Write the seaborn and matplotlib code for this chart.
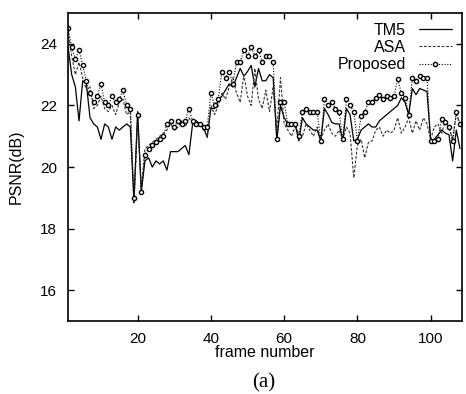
"""PSNR per frame for TM5, ASA and the proposed rate control, gnuplot-like look."""
import matplotlib
matplotlib.use("Agg")
import matplotlib.pyplot as plt
import numpy as np
import pandas as pd
import seaborn as sns

frames = list(range(1, 109))

# values (dB)
tm5 = [
    23.9, 23.0, 22.6, 21.5, 22.8, 22.7, 21.6, 21.4, 21.3, 20.9,
    21.4, 21.3, 20.9, 21.3, 21.2, 21.3, 21.4, 21.3, 18.9, 21.8,
    19.2, 20.2, 20.3, 20.0, 20.2, 20.1, 20.2, 19.9, 20.5, 20.5,
    20.5, 20.6, 20.7, 20.4, 21.4, 21.5, 21.4, 21.3, 20.96, 21.9,
    21.9, 22.15, 22.3, 22.5, 22.7, 22.6, 22.9, 23.2, 22.95, 23.1,
    23.3, 22.6, 23.2, 22.8, 22.8, 23.0, 22.9, 20.85, 22.0, 21.6,
    21.4, 21.4, 21.4, 20.85, 21.6, 21.4, 21.3, 21.2, 21.2, 20.85,
    21.9, 21.7, 21.45, 21.4, 21.4, 20.85, 21.9, 21.7, 20.85, 20.9,
    21.2, 21.3, 21.4, 21.3, 21.3, 21.5, 21.6, 21.7, 21.8, 21.9,
    22.0, 22.25, 22.1, 21.7, 22.55, 22.35, 22.55, 22.5, 22.45, 20.85,
    20.9, 21.05, 21.2, 21.1, 21.05, 20.2, 21.2, 20.6,
]
asa = [
    24.4, 23.6, 23.0, 23.4, 22.9, 22.5, 22.6, 21.9, 22.0, 22.3,
    21.9, 21.8, 22.0, 21.7, 22.1, 22.2, 21.7, 21.8, 18.8, 21.5,
    19.3, 20.6, 20.7, 20.8, 20.9, 21.0, 21.1, 21.2, 21.4, 21.2,
    21.3, 21.5, 21.3, 21.6, 21.4, 21.3, 21.4, 21.2, 21.0, 22.0,
    21.7, 22.0, 22.4, 22.2, 22.6, 22.9, 22.4, 22.1, 23.0, 22.3,
    22.0, 23.2, 22.2, 21.9, 22.5, 21.8, 22.6, 21.2, 22.9, 21.4,
    21.2, 21.0, 21.3, 21.1, 21.0, 21.4, 21.2, 21.0, 21.3, 20.9,
    21.2, 21.4, 21.1, 21.0, 21.2, 20.9, 21.3, 21.1, 19.65, 20.7,
    20.9, 20.3, 20.8, 20.85, 21.2, 21.3, 21.0, 21.2, 21.1, 21.2,
    21.6, 21.1, 21.3, 21.6, 21.1, 21.5, 21.2, 21.6, 21.4, 20.9,
    21.3, 21.4, 21.1, 21.5, 21.3, 20.9, 21.7, 21.4,
]
proposed = [
    24.5, 23.9, 23.5, 23.8, 23.3, 22.8, 22.4, 22.1, 22.3, 22.7,
    22.1, 22.0, 22.3, 22.1, 22.2, 22.5, 22.0, 21.9, 19.0, 21.7,
    19.2, 20.4, 20.6, 20.7, 20.8, 20.9, 21.0, 21.4, 21.5, 21.3,
    21.5, 21.4, 21.5, 21.9, 21.5, 21.4, 21.4, 21.3, 21.3, 22.4,
    22.0, 22.2, 23.1, 22.9, 23.1, 22.7, 23.4, 23.4, 23.8, 23.6,
    23.9, 23.6, 23.8, 23.4, 23.6, 23.6, 23.4, 20.9, 22.1, 22.1,
    21.4, 21.4, 21.4, 21.0, 21.8, 21.9, 21.8, 21.8, 21.8, 20.85,
    22.2, 22.0, 22.1, 21.9, 21.8, 20.9, 22.2, 22.0, 21.8, 20.85,
    21.65, 21.8, 22.1, 22.1, 22.25, 22.35, 22.2, 22.3, 22.25, 22.3,
    22.85, 22.4, 22.25, 21.7, 22.9, 22.8, 22.95, 22.9, 22.9, 20.85,
    20.85, 20.9, 21.55, 21.45, 21.3, 20.85, 21.8, 21.4,
]

x_ticks = [20, 40, 60, 80, 100]
y_ticks = [16, 18, 20, 22, 24]

df = pd.DataFrame({"frame": frames, "TM5": tm5, "ASA": asa, "Proposed": proposed})

sns.set_theme(style="ticks", rc={"text.color": "black", "axes.labelcolor": "black"})
plt.rcParams["font.family"] = ["Liberation Sans", "DejaVu Sans"]

fig = plt.figure(figsize=(4.66, 3.94), dpi=100)
ax = fig.add_axes([0.146, 0.185, 0.845, 0.782])

sns.lineplot(data=df, x="frame", y="TM5", ax=ax, color="black", lw=0.9, label="TM5")
sns.lineplot(data=df, x="frame", y="ASA", ax=ax, color="#333333", lw=0.8,
             linestyle=(0, (2.5, 1.5)), label="ASA")
sns.lineplot(data=df, x="frame", y="Proposed", ax=ax, color="black", lw=0.8,
             linestyle=(0, (1, 1.5)), marker="o", markersize=3.0,
             markerfacecolor="white", markeredgecolor="black", markeredgewidth=1.0,
             label="Proposed")

ax.set_xlim(1, 108.5)
ax.set_ylim(15, 25)
ax.set_xticks(x_ticks)
ax.set_yticks(y_ticks)
ax.tick_params(direction="in", length=4, width=1, top=True, right=True,
               labelsize=11, colors="black", pad=8)
for s in ax.spines.values():
    s.set_linewidth(1.2)
    s.set_color("black")
ax.set_xlabel("frame number", fontsize=11.5, labelpad=-1)
ax.set_ylabel("PSNR(dB)", fontsize=11.5, labelpad=12)

leg = ax.legend(loc="upper right", frameon=False, markerfirst=False, fontsize=11.5,
                handlelength=2.1, handletextpad=0.8, labelspacing=0.15,
                borderaxespad=0.2)

fig.text(0.565, 0.005, "(a)", ha="center", va="bottom", fontsize=15,
         family=["Liberation Serif", "DejaVu Serif"])

fig.savefig("out.png", dpi=100)
